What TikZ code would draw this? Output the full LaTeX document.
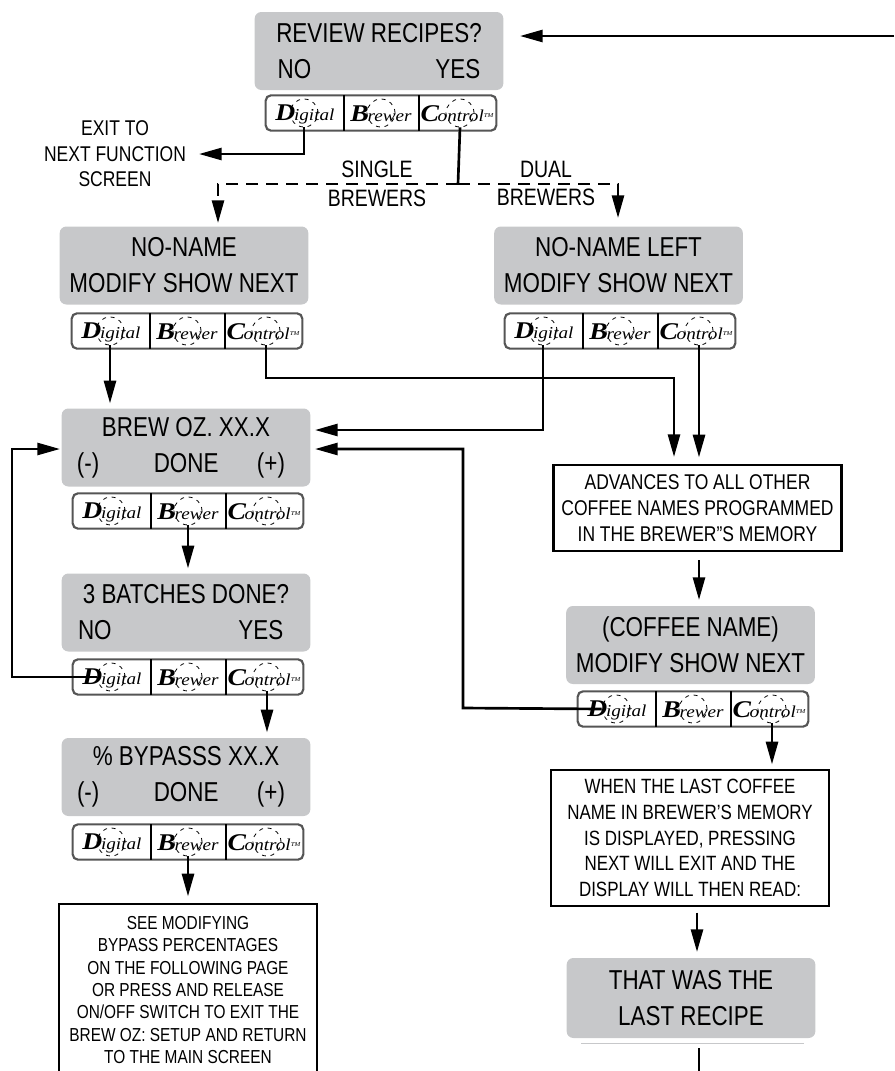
\documentclass[tikz,border=0pt]{standalone}
\usepackage{fontspec}
\usetikzlibrary{arrows.meta}
\setmainfont[FakeStretch=0.82]{Liberation Sans}
\newfontfamily\keyfont[FakeStretch=1.15]{Liberation Serif}
\definecolor{panelgray}{RGB}{199,200,202}
\definecolor{keygray}{RGB}{85,85,85}
\tikzset{
  panel/.style = {fill=panelgray, rounded corners=5pt, minimum width=186.5pt, minimum height=58.5pt,
    align=center, inner sep=0pt, font=\fontsize{20.5}{27}\selectfont},
  notebox/.style = {draw, line width=2pt, align=center, inner sep=0pt,
    font=\fontsize{16}{19.4}\selectfont},
  sidelabel/.style = {align=center, inner sep=0pt},
  keypadbox/.style = {draw=keygray, line width=1.6pt, rounded corners=4pt, fill=white,
    minimum width=173pt, minimum height=26.5pt, inner sep=0pt},
  keyring/.style = {circle, draw, dash pattern=on 3pt off 3.5pt, line width=0.6pt, minimum size=21pt, inner sep=0pt},
  keyface/.style = {inner sep=0pt, font=\keyfont\itshape},
  flow/.style = {line width=2pt, -{Triangle[length=17pt,width=9pt]}},
  dualflow/.style = {flow, dash pattern=on 9pt off 6pt},
  plainflow/.style = {line width=2pt}
}
% keypad: name, left edge, top edge
\newcommand{\keypad}[3]{
  \begin{scope}[shift={(#2,#3)}]
    \node[keypadbox] (#1) at (116,18) {};
    \draw[line width=1.5pt] (79,0) -- (79,36);
    \draw[line width=1.5pt] (154,0) -- (154,36);
    \node[keyring] (#1-d) at (39,18) {};
    \node[keyring] (#1-b) at (116,18) {};
    \node[keyring] (#1-c) at (195,18) {};
    \node[keyface] (#1-dt) at (40,19) {\fontsize{18}{18}\selectfont\bfseries D\kern-1pt\fontsize{12.5}{12.5}\selectfont\mdseries igital};
    \node[keyface] (#1-bt) at (116,19) {\fontsize{18}{18}\selectfont\bfseries B\kern-1pt\fontsize{12.5}{12.5}\selectfont\mdseries rewer};
    \node[keyface] (#1-ct) at (192,19) {\fontsize{18}{18}\selectfont\bfseries C\kern-1pt\fontsize{12.5}{12.5}\selectfont\mdseries ontrol\raisebox{3pt}{\fontsize{4.5}{4.5}\selectfont TM}};
  \end{scope}
}
\newcommand{\spreadline}[2]{\makebox[#1]{#2}}
\begin{document}
\begin{tikzpicture}[x=0.75pt, y=-0.75pt]
  \useasboundingbox (0,0) rectangle (894,1071);
  % panels
  \node[panel] (review) at (379,51) {REVIEW RECIPES?\\\spreadline{152pt}{NO\hfill YES}};
  \node[panel] (noname) at (184,265.5) {NO-NAME\\MODIFY SHOW NEXT};
  \node[panel] (nameleft) at (618.5,265.5) {NO-NAME LEFT\\MODIFY SHOW NEXT};
  \node[panel] (brew) at (186,447.5) {BREW OZ. XX.X\\\spreadline{163.5pt}{(-)\hfill\hspace{12pt}DONE\hfill (+)\kern7.5pt}};
  \node[panel] (batches) at (186,612.5) {3 BATCHES DONE?\\\spreadline{162pt}{NO\hfill YES\kern8pt}};
  \node[panel] (bypass) at (186,777) {\% BYPASSS XX.X\\\spreadline{163.5pt}{(-)\hfill\hspace{12pt}DONE\hfill (+)\kern7.5pt}};
  \node[panel] (coffee) at (690.5,645) {(COFFEE NAME)\\MODIFY SHOW NEXT};
  \node[panel, minimum height=60pt] (lastrecipe) at (691,998) {THAT WAS THE\\LAST RECIPE};
  % keypads
  \keypad{reviewkeys}{265}{95}
  \keypad{nonamekeys}{71}{313}
  \keypad{leftkeys}{504}{313}
  \keypad{brewkeys}{72}{493}
  \keypad{batchkeys}{72}{659}
  \keypad{bypasskeys}{72}{824}
  \keypad{coffeekeys}{577}{691}
  % boxes
  \node[notebox, minimum width=216pt, minimum height=64.5pt] (advances) at (697.5,508)
    {ADVANCES TO ALL OTHER\\COFFEE NAMES PROGRAMMED\\IN THE BREWER"S MEMORY};
  \node[notebox, minimum width=208.5pt, minimum height=102pt, font=\fontsize{15.5}{19.4}\selectfont] (lastname) at (690,838)
    {WHEN THE LAST COFFEE\\NAME IN BREWER'S MEMORY\\IS DISPLAYED, PRESSING\\NEXT WILL EXIT AND THE\\DISPLAY WILL THEN READ:};
  \node[notebox, minimum width=193.5pt, minimum height=129pt, font=\fontsize{14.1}{16.8}\selectfont] (seemod) at (188,990)
    {SEE MODIFYING\\BYPASS PERCENTAGES\\ON THE FOLLOWING PAGE\\OR PRESS AND RELEASE\\ON/OFF SWITCH TO EXIT THE\\BREW OZ: SETUP AND RETURN\\TO THE MAIN SCREEN};
  % labels
  \node[sidelabel, font=\fontsize{16}{19.4}\selectfont] (exitlabel) at (115,153.7) {EXIT TO\\NEXT FUNCTION\\SCREEN};
  \node[sidelabel, font=\fontsize{17.8}{21.3}\selectfont] (singlelabel) at (377,183.7) {SINGLE\\BREWERS};
  \node[sidelabel, font=\fontsize{17.8}{21.3}\selectfont] (duallabel) at (546,183.7) {DUAL\\BREWERS};
  % connectors
  \coordinate (returnin) at (894,36);
  \coordinate (splitpoint) at (458,184);
  \coordinate (singleturn) at (218,184);
  \coordinate (dualturn) at (618,184);
  \coordinate (tailstart) at (699,1048);
  \coordinate (tailend) at (699,1071);
  \coordinate (rulestart) at (581,1043);
  \coordinate (ruleend) at (804,1043);
  \draw[flow] (returnin) -- (520,36);
  \draw[flow] (reviewkeys-d.south) |- (199,154);
  \draw[plainflow] (reviewkeys-c.south) -- (splitpoint);
  \draw[dualflow] (splitpoint) -- (singleturn) -- (218,223);
  \draw[dualflow] (splitpoint) -- (dualturn) -- (618,218);
  \draw[flow] (nonamekeys-d.south) -- ++(0,58);
  \draw[flow] (nonamekeys-c.south) |- (674,378) -- (674,457);
  \draw[flow] (leftkeys-d.south) |- (315,430);
  \draw[flow] (leftkeys-c.south) -- ++(0,112);
  \draw[flow] (brewkeys-b.south) -- ++(0,43);
  \draw[flow] (batchkeys-d.west) -- (12,677) |- (60,449);
  \draw[flow] (batchkeys-c.south) -- ++(0,41);
  \draw[flow] (bypasskeys-b.south) -- ++(0,40);
  \draw[flow] ([yshift=-6pt]advances.south -| 699,0) -- (699,600);
  \draw[flow] (coffeekeys-d.west) -- (463,708) |- (315,449);
  \draw[flow] (coffeekeys-c.south) -- ++(0,41);
  \draw[flow] ([yshift=-4pt]lastname.south -| 697,0) -- (697,952);
  \draw[plainflow] (tailstart) -- (tailend);
  \draw[panelgray, line width=0.6pt] (rulestart) -- (ruleend);
\end{tikzpicture}
\end{document}
